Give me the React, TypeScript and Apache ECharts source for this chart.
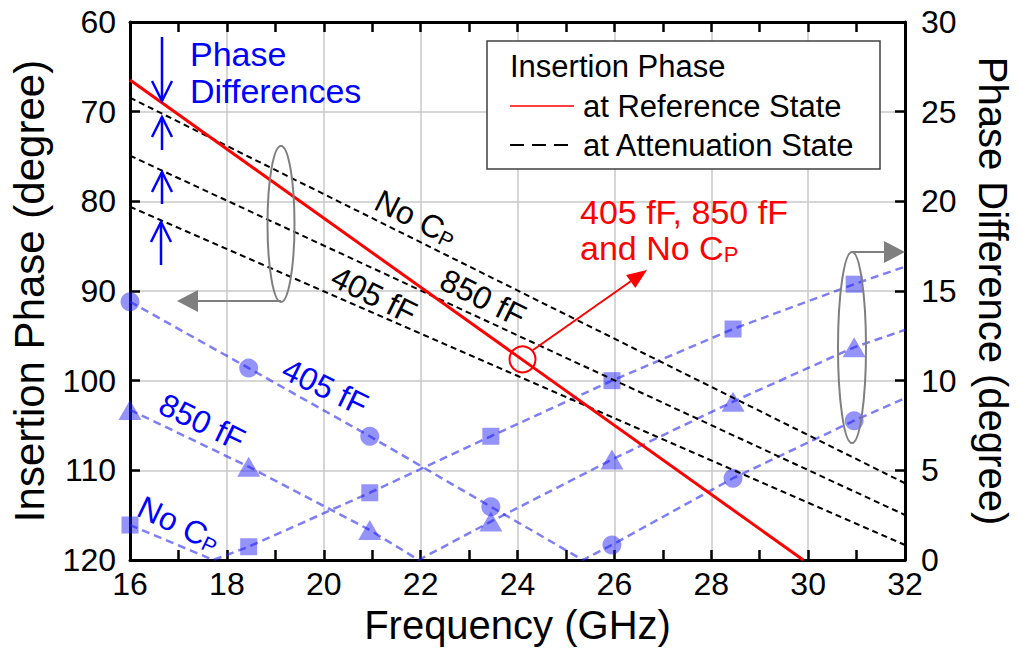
import React, { useEffect, useRef } from "react";
import * as echarts from "echarts";

const FONT = "'Liberation Sans', Arial, sans-serif";

// x axis (GHz)
const freqMin = 16;
const freqMax = 32;
const freqStep = 2;
// left axis: insertion phase (deg, inverted)
const phaseMin = 60;
const phaseMax = 120;
const phaseStep = 10;
// right axis: phase difference (deg)
const diffMin = 0;
const diffMax = 30;
const diffStep = 5;

// insertion phase, reference state (solid red)
const refState = [[16, 66.47], [29.9, 120]];
// insertion phase, attenuation state (black dashed)
const attenNoCp = [[16, 68.44], [32, 111.44]];
const atten850 = [[16, 74.91], [32, 114.98]];
const atten405 = [[16, 80.6], [32, 118.33]];

// phase difference markers
const markerFreqs = [16, 18.45, 20.95, 23.45, 25.95, 28.45, 30.95];
const diffNoCp = [1.95, 0.74, 3.75, 6.9, 10.0, 12.88, 15.38];
const diff850 = [8.37, 5.2, 1.67, 2.14, 5.6, 8.83, 11.86];
const diff405 = [14.4, 10.7, 6.9, 2.97, 0.84, 4.56, 7.77];

// phase difference traces (blue dashed)
const traceNoCp = [[16, 1.95], [17.72, 0], [18.45, 0.74], [20.95, 3.75], [23.45, 6.9], [25.95, 10.0], [28.45, 12.88], [30.95, 15.38], [32, 16.36]];
const trace850 = [[16, 8.37], [18.45, 5.2], [20.95, 1.67], [21.96, 0], [23.45, 2.14], [25.95, 5.6], [28.45, 8.83], [30.95, 11.86], [32, 12.83]];
const trace405 = [[16, 14.4], [18.45, 10.7], [20.95, 6.9], [23.45, 2.97], [25.35, 0], [25.95, 0.84], [28.45, 4.56], [30.95, 7.77], [32, 9.02]];

const BLUE_LINE = "rgba(40,40,240,0.6)";
const BLUE_MARK = "rgba(30,30,245,0.6)";
const GRAY = "#7f7f7f";

function pts(xs: number[], ys: number[]) {
  return xs.map((x, i) => [x, ys[i]]);
}

function sub(main: string, s: string) {
  return `{m|${main}}{s|${s}}`;
}

export default function App() {
  const ref = useRef<HTMLDivElement>(null);
  useEffect(() => {
    if (!ref.current) return;
    const chart = echarts.init(ref.current, undefined, { renderer: "svg" });

    const tickLine = { color: "#000", width: 2.5 };
    const labelStyle = { fontSize: 32, color: "#000", fontFamily: FONT };

    const blueRich = {
      m: { fontSize: 32, fontFamily: FONT, fill: "#0000ff" },
      s: { fontSize: 21, fontFamily: FONT, fill: "#0000ff", verticalAlign: "bottom" },
    };
    const blackRich = {
      m: { fontSize: 32, fontFamily: FONT, fill: "#000" },
      s: { fontSize: 21, fontFamily: FONT, fill: "#000", verticalAlign: "bottom" },
    };
    const redRich = {
      m: { fontSize: 34, fontFamily: FONT, fill: "#ff0000" },
      s: { fontSize: 22, fontFamily: FONT, fill: "#ff0000", verticalAlign: "bottom" },
    };

    const rotText = (x: number, y: number, text: string, color: string, rot: number, rich?: any) => ({
      type: "text",
      x,
      y,
      rotation: rot,
      z: 100,
      style: {
        text,
        fill: color,
        fontSize: 32,
        fontFamily: FONT,
        align: "center",
        verticalAlign: "middle",
        rich,
      },
    });

    const blueArrow = (x: number, tipY: number, tailY: number) => {
      const dir = tailY > tipY ? 1 : -1;
      const wingY = tipY + dir * 20;
      return [
        { type: "line", z: 100, shape: { x1: x, y1: tailY, x2: x, y2: tipY }, style: { stroke: "#0000ff", lineWidth: 2.5 } },
        { type: "polyline", z: 100, shape: { points: [[x - 10, wingY], [x, tipY], [x + 10, wingY]] }, style: { stroke: "#0000ff", lineWidth: 2.5, fill: null } },
      ];
    };

    const option: any = {
      animation: false,
      backgroundColor: "#fff",
      grid: { left: 129, right: 112, top: 22, bottom: 90, containLabel: false },
      xAxis: [
        {
          type: "value",
          min: freqMin,
          max: freqMax,
          interval: freqStep,
          position: "bottom",
          name: "Frequency (GHz)",
          nameLocation: "middle",
          nameGap: 42,
          nameTextStyle: { fontSize: 40, color: "#000", fontFamily: FONT },
          axisLine: { show: true, lineStyle: { color: "#000", width: 3 } },
          axisTick: { show: true, inside: true, length: 10, lineStyle: tickLine },
          minorTick: { show: true, splitNumber: 2, length: 10, lineStyle: tickLine },
          splitLine: { show: true, lineStyle: { color: "#c8c8c8", width: 1.5 } },
          axisLabel: { ...labelStyle, margin: 8, showMinLabel: true, showMaxLabel: true },
        },
        {
          type: "value",
          min: freqMin,
          max: freqMax,
          interval: freqStep,
          position: "top",
          axisLine: { show: true, lineStyle: { color: "#000", width: 3 } },
          axisTick: { show: true, inside: true, length: 10, lineStyle: tickLine },
          minorTick: { show: true, splitNumber: 2, length: 10, lineStyle: tickLine },
          splitLine: { show: false },
          axisLabel: { show: false },
        },
      ],
      yAxis: [
        {
          type: "value",
          inverse: true,
          min: phaseMin,
          max: phaseMax,
          interval: phaseStep,
          position: "left",
          name: "Insertion Phase (degree)",
          nameLocation: "middle",
          nameGap: 80,
          nameRotate: 90,
          nameTextStyle: { fontSize: 42, color: "#000", fontFamily: FONT },
          axisLine: { show: true, lineStyle: { color: "#000", width: 3 } },
          axisTick: { show: true, inside: true, length: 10, lineStyle: tickLine },
          splitLine: { show: true, lineStyle: { color: "#c8c8c8", width: 1.5 } },
          axisLabel: { ...labelStyle, margin: 14 },
        },
        {
          type: "value",
          min: diffMin,
          max: diffMax,
          interval: diffStep,
          position: "right",
          name: "Phase Difference (degree)",
          nameLocation: "middle",
          nameGap: 68,
          nameRotate: -90,
          nameTextStyle: { fontSize: 40, color: "#000", fontFamily: FONT },
          axisLine: { show: true, lineStyle: { color: "#000", width: 3 } },
          axisTick: { show: true, inside: true, length: 10, lineStyle: tickLine },
          splitLine: { show: false },
          axisLabel: { ...labelStyle, margin: 16 },
        },
      ],
      series: [
        ...[traceNoCp, trace850, trace405].map((d) => ({
          type: "line",
          xAxisIndex: 0,
          yAxisIndex: 1,
          data: d,
          showSymbol: false,
          symbol: "none",
          z: 2,
          lineStyle: { color: BLUE_LINE, width: 2.5, type: [8, 5] },
        })),
        {
          type: "scatter",
          name: "No CP",
          xAxisIndex: 0,
          yAxisIndex: 1,
          data: pts(markerFreqs, diffNoCp),
          symbol: "rect",
          symbolSize: 17,
          itemStyle: { color: BLUE_MARK },
          z: 3,
        },
        {
          type: "scatter",
          name: "850 fF",
          xAxisIndex: 0,
          yAxisIndex: 1,
          data: pts(markerFreqs, diff850),
          symbol: "triangle",
          symbolSize: [23, 20],
          itemStyle: { color: BLUE_MARK },
          z: 3,
        },
        {
          type: "scatter",
          name: "405 fF",
          xAxisIndex: 0,
          yAxisIndex: 1,
          data: pts(markerFreqs, diff405),
          symbol: "circle",
          symbolSize: 19,
          itemStyle: { color: BLUE_MARK },
          z: 3,
        },
        ...[attenNoCp, atten850, atten405].map((d) => ({
          type: "line",
          xAxisIndex: 0,
          yAxisIndex: 0,
          data: d,
          showSymbol: false,
          symbol: "none",
          z: 4,
          lineStyle: { color: "#000", width: 2, type: [6, 4] },
        })),
        {
          type: "line",
          xAxisIndex: 0,
          yAxisIndex: 0,
          data: refState,
          showSymbol: false,
          symbol: "none",
          z: 5,
          lineStyle: { color: "#ff0000", width: 3 },
        },
      ],
      graphic: [
        // legend box
        { type: "rect", z: 90, shape: { x: 487, y: 41, width: 393, height: 128 }, style: { fill: "#fff", stroke: "#404040", lineWidth: 1.5 } },
        { type: "text", z: 100, x: 510, y: 66, style: { text: "Insertion Phase", fill: "#000", fontSize: 31, fontFamily: FONT, align: "left", verticalAlign: "middle" } },
        { type: "line", z: 100, shape: { x1: 510, y1: 106, x2: 574, y2: 106 }, style: { stroke: "#ff0000", lineWidth: 1.5 } },
        { type: "text", z: 100, x: 583, y: 106, style: { text: "at Reference State", fill: "#000", fontSize: 31, fontFamily: FONT, align: "left", verticalAlign: "middle" } },
        { type: "line", z: 100, shape: { x1: 510, y1: 145, x2: 568, y2: 145 }, style: { stroke: "#000", lineWidth: 2, lineDash: [14, 8] } },
        { type: "text", z: 100, x: 583, y: 145, style: { text: "at Attenuation State", fill: "#000", fontSize: 31, fontFamily: FONT, align: "left", verticalAlign: "middle" } },

        // Phase differences annotation
        { type: "text", z: 100, x: 190, y: 54, style: { text: "Phase", fill: "#0000ff", fontSize: 34, fontFamily: FONT, align: "left", verticalAlign: "middle" } },
        { type: "text", z: 100, x: 190, y: 91, style: { text: "Differences", fill: "#0000ff", fontSize: 34, fontFamily: FONT, align: "left", verticalAlign: "middle" } },
        ...blueArrow(162, 101, 37),
        ...blueArrow(162, 117, 150),
        ...blueArrow(162, 172, 204),
        ...blueArrow(161, 222, 265),

        // left gray ellipse + arrow
        { type: "ellipse", z: 100, shape: { cx: 281, cy: 224, rx: 13.5, ry: 78 }, style: { stroke: GRAY, lineWidth: 2, fill: null } },
        { type: "line", z: 100, shape: { x1: 281, y1: 301, x2: 196, y2: 301 }, style: { stroke: GRAY, lineWidth: 2 } },
        { type: "polygon", z: 100, shape: { points: [[177, 301], [198, 290], [198, 312]] }, style: { fill: GRAY } },

        // right gray ellipse + arrow
        { type: "ellipse", z: 100, shape: { cx: 852, cy: 347.5, rx: 14, ry: 95.5 }, style: { stroke: GRAY, lineWidth: 2, fill: null } },
        { type: "line", z: 100, shape: { x1: 852, y1: 252, x2: 886, y2: 252 }, style: { stroke: GRAY, lineWidth: 2 } },
        { type: "polygon", z: 100, shape: { points: [[905, 252], [884, 241], [884, 263]] }, style: { fill: GRAY } },

        // red circle + arrow
        { type: "circle", z: 100, shape: { cx: 522.5, cy: 359.3, r: 13 }, style: { stroke: "#ff0000", lineWidth: 2, fill: null } },
        { type: "line", z: 100, shape: { x1: 533, y1: 350, x2: 634, y2: 279 }, style: { stroke: "#ff0000", lineWidth: 2 } },
        { type: "polygon", z: 100, shape: { points: [[647, 270], [635.3, 288], [626.1, 275]] }, style: { fill: "#ff0000" } },
        { type: "text", z: 100, x: 580, y: 212, style: { text: "405 fF, 850 fF", fill: "#ff0000", fontSize: 34, fontFamily: FONT, align: "left", verticalAlign: "middle" } },
        { type: "text", z: 100, x: 580, y: 248, style: { text: sub("and No C", "P"), fill: "#ff0000", fontSize: 34, fontFamily: FONT, align: "left", verticalAlign: "middle", rich: redRich } },

        // black curve labels
        rotText(416, 218, sub("No C", "P"), "#000", -0.46, blackRich),
        rotText(483, 298, "850 fF", "#000", -0.46),
        rotText(374, 295, "405 fF", "#000", -0.46),

        // blue curve labels
        rotText(325, 387, "405 fF", "#0000ff", -0.45),
        rotText(202, 422, "850 fF", "#0000ff", -0.45),
        rotText(179, 524, sub("No C", "P"), "#0000ff", -0.45, blueRich),
      ],
    };

    chart.setOption(option);
    return () => chart.dispose();
  }, []);

  return (
    <div
      ref={ref}
      style={{ position: "absolute", left: 0, top: 0, width: 1021, height: 650, background: "#fff" }}
    />
  );
}
